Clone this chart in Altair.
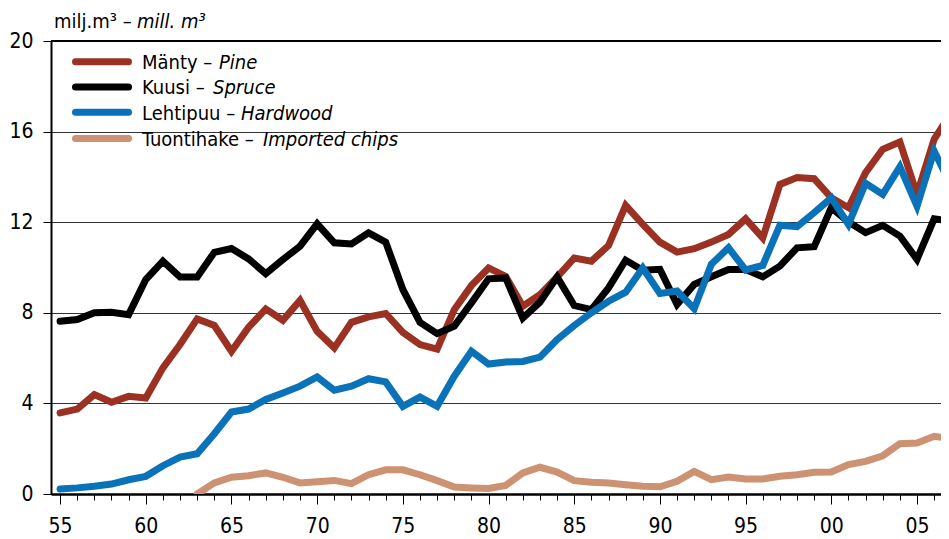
import altair as alt
import pandas as pd

# ---- data ----
years = list(range(1955, 2008))
pine = [3.58, 3.75, 4.39, 4.05, 4.31, 4.24, 5.57, 6.60, 7.73, 7.44,
        6.30, 7.36, 8.17, 7.67, 8.55, 7.18, 6.45, 7.58, 7.82, 7.97,
        7.14, 6.60, 6.40, 8.14, 9.20, 9.98, 9.61, 8.29, 8.80, 9.58,
        10.42, 10.28, 10.97, 12.74, 11.90, 11.12, 10.68, 10.83, 11.12, 11.46,
        12.15, 11.31, 13.67, 13.97, 13.92, 13.08, 12.64, 14.19, 15.22, 15.54,
        13.23, 15.66, 16.84]
spruce = [7.63, 7.70, 8.00, 8.02, 7.92, 9.47, 10.28, 9.58, 9.58, 10.67,
          10.84, 10.38, 9.73, 10.35, 10.94, 11.93, 11.09, 11.04, 11.53, 11.12,
          9.03, 7.58, 7.08, 7.41, 8.44, 9.50, 9.54, 7.77, 8.47, 9.58,
          8.32, 8.14, 9.10, 10.32, 9.88, 9.92, 8.37, 9.25, 9.59, 9.91,
          9.91, 9.59, 10.06, 10.87, 10.92, 12.64, 12.01, 11.54, 11.86, 11.39,
          10.36, 12.15, 12.05]
hardwood = [0.22, 0.27, 0.34, 0.44, 0.63, 0.78, 1.25, 1.63, 1.78, 2.66,
            3.62, 3.75, 4.17, 4.46, 4.76, 5.17, 4.58, 4.76, 5.09, 4.95,
            3.87, 4.28, 3.87, 5.20, 6.30, 5.74, 5.83, 5.85, 6.04, 6.82,
            7.44, 8.00, 8.51, 8.91, 9.98, 8.85, 8.96, 8.18, 10.14, 10.87,
            9.89, 10.09, 11.87, 11.80, 12.42, 13.08, 11.90, 13.72, 13.23, 14.45,
            12.71, 15.14, 13.60]
chip_years = list(range(1963, 2008))
chips = [0.00, 0.49, 0.74, 0.81, 0.93, 0.74, 0.49, 0.54, 0.60, 0.46,
         0.85, 1.07, 1.07, 0.85, 0.59, 0.31, 0.27, 0.24, 0.38, 0.93,
         1.18, 0.97, 0.59, 0.52, 0.49, 0.41, 0.34, 0.32, 0.56, 1.00,
         0.63, 0.75, 0.66, 0.66, 0.78, 0.85, 0.96, 0.97, 1.30, 1.44,
         1.69, 2.22, 2.25, 2.55, 2.43]

names_fi = ["Mänty – ", "Kuusi – ", "Lehtipuu – ", "Tuontihake – "]
names_en = ["Pine", "Spruce", "Hardwood", "Imported chips"]
colors = ["#9B3122", "#000000", "#0A72B8", "#CC9272"]
title_fi = "milj.m³ – "
title_en = "mill. m³"
x_ticks = list(range(1955, 2007))
y_ticks = [0, 4, 8, 12, 16, 20]

FONT = "DejaVu Sans Condensed, Liberation Sans Narrow, sans-serif"
FS = 20
TICK_FS = 21

series = [(years, pine), (years, spruce), (years, hardwood), (chip_years, chips)]

xscale = alt.Scale(domain=[1954.47, 2006.40], nice=False, zero=False)
yscale = alt.Scale(domain=[0, 20], nice=False, zero=True)

x_axis = alt.Axis(
    values=x_ticks,
    labelExpr="datum.value % 5 === 0 ? format(datum.value % 100, '02d') : ''",
    tickSize={"condition": {"test": "datum.value % 5 === 0", "value": 10}, "value": 6},
    tickColor="black", tickWidth=1,
    domainColor="black", domainWidth=2.5,
    labelFont=FONT, labelFontSize=TICK_FS, labelColor="black",
    labelPadding=11, labelFlush=False, labelOverlap=False,
    grid=False, title=None,
)
y_axis = alt.Axis(
    values=y_ticks,
    tickSize=8, tickColor="black", tickWidth=1,
    domainColor="black", domainWidth=2,
    labelFont=FONT, labelFontSize=TICK_FS, labelColor="black", labelPadding=10,
    grid=True, gridColor="#333333", gridWidth=1,
    title=None,
)

X = alt.X("year:Q", scale=xscale, axis=x_axis)
Y = alt.Y("value:Q", scale=yscale, axis=y_axis)

layers = []
for (xs, ys), col in zip(series, colors):
    df = pd.DataFrame({"year": xs, "value": ys})
    layers.append(
        alt.Chart(df).mark_line(color=col, strokeWidth=7, strokeCap="round",
                                strokeJoin="miter", clip=True).encode(x=X, y=Y)
    )

# top frame line at 20
layers.append(
    alt.Chart(pd.DataFrame({"value": [20]})).mark_rule(color="black", strokeWidth=2)
    .encode(y=Y)
)

# title (mixed upright / italic)
layers.append(
    alt.Chart(pd.DataFrame({"t": [title_fi]})).mark_text(
        font=FONT, fontSize=FS, align="left", baseline="alphabetic", color="black")
    .encode(text="t:N", x=alt.value(3), y=alt.value(-13))
)
layers.append(
    alt.Chart(pd.DataFrame({"t": [title_en]})).mark_text(
        font=FONT, fontSize=FS, fontStyle="italic", align="left",
        baseline="alphabetic", color="black")
    .encode(text="t:N", x=alt.value(86), y=alt.value(-13))
)

# legend
row_y = [20.7, 45.9, 71.3, 97.5]
en_x = [168, 162, 190, 212]
for fi, en, col, ry, ex in zip(names_fi, names_en, colors, row_y, en_x):
    layers.append(
        alt.Chart(pd.DataFrame({"c": [col]})).mark_rule(
            color=col, strokeWidth=7, strokeCap="round")
        .encode(x=alt.value(24.5), x2=alt.value(77.5), y=alt.value(ry))
    )
    layers.append(
        alt.Chart(pd.DataFrame({"t": [fi]})).mark_text(
            font=FONT, fontSize=FS, align="left", baseline="alphabetic", color="black")
        .encode(text="t:N", x=alt.value(91), y=alt.value(ry + 7.5))
    )
    layers.append(
        alt.Chart(pd.DataFrame({"t": [en]})).mark_text(
            font=FONT, fontSize=FS, fontStyle="italic", align="left",
            baseline="alphabetic", color="black")
        .encode(text="t:N", x=alt.value(ex), y=alt.value(ry + 7.5))
    )

chart = alt.layer(*layers).properties(
    width=890, height=453,
    autosize=alt.AutoSizeParams(type="none"),
    padding={"left": 43, "top": 33, "right": 0, "bottom": 44},
    background="white",
).configure_view(stroke=None)

chart.save("out.html", embed_options={"renderer": "svg", "actions": False})
